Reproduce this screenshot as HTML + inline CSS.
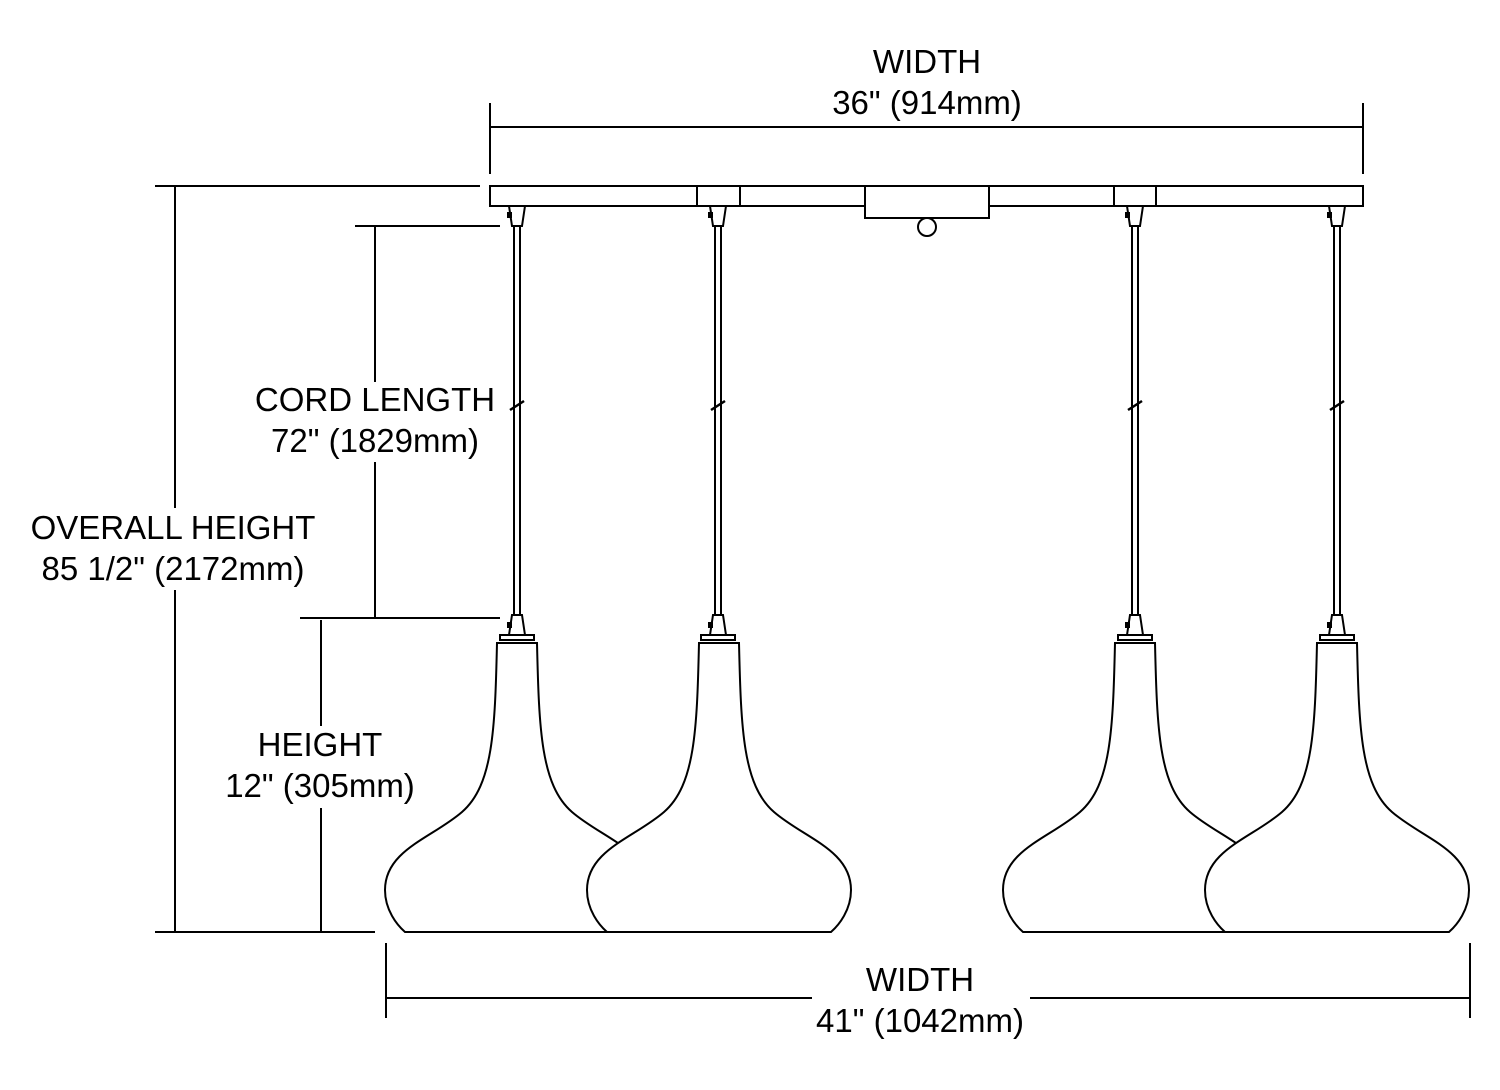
<!DOCTYPE html>
<html><head><style>html,body{margin:0;padding:0;background:#fff}svg{display:block}</style></head>
<body>
<svg width="1500" height="1090" viewBox="0 0 1500 1090" xmlns="http://www.w3.org/2000/svg">
<defs>
<g id="pend" stroke="#000" stroke-width="2" fill="#fff">
  <path d="M-8,206 L8,206 L5,226 L-5,226 Z"/>
  <rect x="-10" y="212" width="5" height="6" fill="#000" stroke="none"/>
  <line x1="-3" y1="226" x2="-3" y2="615"/>
  <line x1="3" y1="226" x2="3" y2="615"/>
  <line x1="-7" y1="410" x2="7" y2="401" stroke-width="2.5"/>
  <path d="M-5,615 L5,615 L8,635 L-8,635 Z"/>
  <rect x="-10" y="622" width="5" height="6" fill="#000" stroke="none"/>
  <rect x="-17" y="635" width="34" height="5"/>
</g>
<path id="shade" d="M-20,643 C-22,730 -24,785 -55,812 C-85,838 -132,850 -132,890 C-132,910 -120,925 -112,932 L112,932 C120,925 132,910 132,890 C132,850 85,838 55,812 C24,785 22,730 20,643 Z" stroke="#000" stroke-width="2" fill="#fff"/>
</defs>
<g stroke="#000" stroke-width="2" fill="none">
  <rect x="490" y="186" width="873" height="20" fill="#fff"/>
  <line x1="697" y1="186" x2="697" y2="206"/><line x1="740" y1="186" x2="740" y2="206"/>
  <line x1="1114" y1="186" x2="1114" y2="206"/><line x1="1156" y1="186" x2="1156" y2="206"/>
  <rect x="865" y="186" width="124" height="32" fill="#fff"/>
  <circle cx="927" cy="227" r="9" fill="#fff"/>
  <line x1="490" y1="103" x2="490" y2="174"/><line x1="1363" y1="103" x2="1363" y2="174"/>
  <line x1="490" y1="127" x2="1363" y2="127"/>
  <line x1="155" y1="186" x2="480" y2="186"/><line x1="155" y1="932" x2="375" y2="932"/>
  <line x1="175" y1="186" x2="175" y2="508"/><line x1="175" y1="590" x2="175" y2="932"/>
  <line x1="355" y1="226" x2="500" y2="226"/><line x1="300" y1="618" x2="500" y2="618"/>
  <line x1="375" y1="226" x2="375" y2="382"/><line x1="375" y1="462" x2="375" y2="618"/>
  <line x1="321" y1="620" x2="321" y2="726"/><line x1="321" y1="808" x2="321" y2="932"/>
  <line x1="386" y1="943" x2="386" y2="1018"/><line x1="1470" y1="943" x2="1470" y2="1018"/>
  <line x1="386" y1="998" x2="812" y2="998"/><line x1="1030" y1="998" x2="1470" y2="998"/>
</g>
<use href="#pend" transform="translate(517,0)"/>
<use href="#pend" transform="translate(718,0)"/>
<use href="#pend" transform="translate(1135,0)"/>
<use href="#pend" transform="translate(1337,0)"/>
<use href="#shade" transform="translate(517,0)"/>
<use href="#shade" transform="translate(719,0)"/>
<use href="#shade" transform="translate(1135,0)"/>
<use href="#shade" transform="translate(1337,0)"/>
<g font-family="Liberation Sans, sans-serif" font-size="33" text-anchor="middle" fill="#000">
  <text x="927" y="73">WIDTH</text>
  <text x="927" y="114">36" (914mm)</text>
  <text x="173" y="539">OVERALL HEIGHT</text>
  <text x="173" y="580">85 1/2" (2172mm)</text>
  <text x="375" y="411">CORD LENGTH</text>
  <text x="375" y="452">72" (1829mm)</text>
  <text x="320" y="756">HEIGHT</text>
  <text x="320" y="797">12" (305mm)</text>
  <text x="920" y="991">WIDTH</text>
  <text x="920" y="1032">41" (1042mm)</text>
</g>
</svg>
</body></html>
